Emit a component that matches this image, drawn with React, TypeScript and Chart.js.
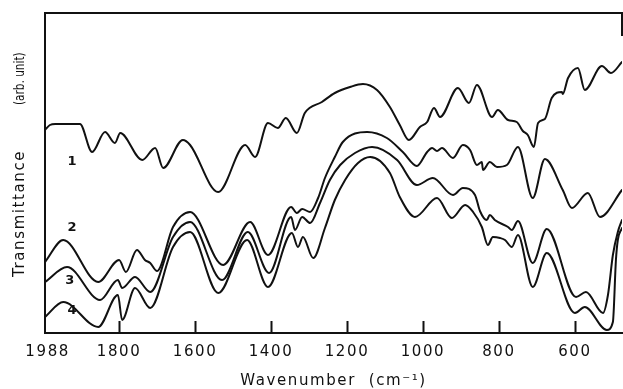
import { useEffect, useRef } from "react";
import { Chart, registerables } from "chart.js";

Chart.register(...registerables);

// x axis range (cm-1), reversed
const X_LEFT = 1995;
const X_RIGHT = 476;
const X_TICKS = [1988, 1800, 1600, 1400, 1200, 1000, 800, 600];
const Y_MIN = 0;
const Y_MAX = 320;

// Curve 1
const WN_1 = [1995, 1982, 1968, 1903, 1871, 1837, 1811, 1797, 1739, 1705, 1684, 1632, 1613, 1539, 1468, 1442, 1408, 1382, 1361, 1332, 1311, 1266, 1232, 1192, 1158, 1121, 1087, 1061, 1037, 1008, 989, 971, 955, 908, 879, 858, 818, 803, 776, 753, 737, 724, 708, 697, 679, 661, 634, 632, 618, 592, 574, 529, 505, 476];
const T_1 = [203, 208, 209, 209, 181, 201, 190, 200, 173, 185, 165, 193, 188, 141, 188, 176, 210, 205, 215, 200, 220, 231, 240, 246, 249, 243, 226, 208, 193, 206, 211, 225, 216, 245, 230, 248, 216, 223, 213, 211, 202, 198, 186, 210, 214, 235, 241, 239, 255, 265, 243, 267, 260, 271];

// Curve 2
const WN_2 = [1995, 1947, 1855, 1800, 1782, 1753, 1732, 1718, 1700, 1658, 1613, 1526, 1455, 1408, 1347, 1332, 1318, 1297, 1276, 1258, 1232, 1211, 1147, 1095, 1053, 1016, 989, 976, 963, 950, 921, 895, 876, 858, 845, 842, 824, 805, 779, 750, 711, 679, 632, 608, 566, 534, 476];
const T_2 = [71, 93, 51, 73, 61, 83, 73, 70, 62, 106, 121, 68, 111, 78, 126, 120, 124, 121, 135, 155, 176, 191, 201, 195, 181, 167, 181, 185, 182, 185, 175, 188, 183, 168, 171, 163, 171, 166, 168, 186, 135, 174, 143, 125, 140, 116, 143];

// Curve 3
const WN_3 = [1995, 1937, 1850, 1803, 1792, 1758, 1718, 1658, 1613, 1529, 1461, 1405, 1347, 1337, 1318, 1297, 1271, 1245, 1218, 1179, 1134, 1068, 1016, 974, 921, 895, 863, 850, 832, 824, 811, 776, 766, 750, 711, 674, 597, 571, 526, 513, 500, 487, 476];
const T_3 = [51, 66, 33, 53, 45, 56, 41, 96, 111, 53, 101, 60, 116, 103, 116, 110, 130, 153, 168, 180, 186, 173, 148, 155, 138, 145, 138, 122, 113, 118, 113, 106, 103, 112, 70, 104, 36, 41, 20, 38, 78, 101, 113];

// Curve 4
const WN_4 = [1995, 1947, 1855, 1803, 1792, 1758, 1718, 1658, 1613, 1539, 1463, 1408, 1345, 1329, 1316, 1289, 1258, 1232, 1205, 1171, 1139, 1087, 1061, 1021, 963, 924, 889, 868, 845, 829, 816, 797, 784, 766, 750, 711, 674, 600, 574, 516, 500, 492, 487, 476];
const T_4 = [16, 31, 6, 38, 13, 45, 25, 86, 101, 40, 93, 46, 100, 86, 96, 75, 105, 133, 153, 170, 176, 160, 136, 116, 135, 115, 128, 121, 106, 88, 96, 95, 93, 86, 98, 46, 80, 20, 26, 3, 11, 73, 93, 105];

const SERIES_NAMES = ["1", "2", "3", "4"];
const SERIES_WN = [WN_1, WN_2, WN_3, WN_4];
const SERIES_T = [T_1, T_2, T_3, T_4];
// curve label anchor (wavenumber, value)
const LABEL_WN = [1924, 1924, 1930, 1924];
const LABEL_T = [171, 105, 52, 22];

const FONT = "'DejaVu Sans', sans-serif";
const INK = "#111";

const framePlugin = {
  id: "frame",
  beforeDraw(chart: any) {
    (chart.ctx as any).letterSpacing = "1.6px";
  },
  afterDraw(chart: any) {
    const ctx = chart.ctx as CanvasRenderingContext2D;
    const { left, right, top, bottom } = chart.chartArea;
    const xs = chart.scales.x;
    const ys = chart.scales.y;
    ctx.save();
    ctx.strokeStyle = INK;
    ctx.lineWidth = 2;
    ctx.lineCap = "square";
    ctx.beginPath();
    ctx.moveTo(left, top);
    ctx.lineTo(left, bottom);
    ctx.lineTo(right, bottom);
    ctx.moveTo(left, top);
    ctx.lineTo(right, top);
    ctx.lineTo(right, top + 22);
    ctx.stroke();
    // inward ticks
    ctx.beginPath();
    for (const v of X_TICKS) {
      const px = Math.round(xs.getPixelForValue(v)) + 0.5;
      if (px - left < 6) continue;
      ctx.moveTo(px, bottom);
      ctx.lineTo(px, bottom - 11);
    }
    ctx.stroke();
    // curve labels
    ctx.fillStyle = INK;
    ctx.font = `bold 13px ${FONT}`;
    (ctx as any).letterSpacing = "0px";
    ctx.textAlign = "center";
    ctx.textBaseline = "middle";
    SERIES_NAMES.forEach((n, i) => {
      ctx.fillText(n, xs.getPixelForValue(LABEL_WN[i]), ys.getPixelForValue(LABEL_T[i]));
    });
    // y axis title
    ctx.translate(20, 167);
    ctx.rotate(-Math.PI / 2);
    ctx.textAlign = "left";
    ctx.textBaseline = "middle";
    ctx.font = `15px ${FONT}`;
    (ctx as any).letterSpacing = "1.6px";
    ctx.fillText("Transmittance", -110, 0);
    ctx.translate(62, 0);
    ctx.scale(0.75, 1);
    ctx.font = `14px ${FONT}`;
    (ctx as any).letterSpacing = "0px";
    ctx.fillText("(arb. unit)", 0, 0);
    ctx.restore();
  },
};

export default function App() {
  const ref = useRef<HTMLCanvasElement>(null);
  useEffect(() => {
    document.body.style.margin = "0";
    const canvas = ref.current!;
    const chart = new Chart(canvas, {
      type: "line",
      data: {
        datasets: SERIES_NAMES.map((name, i) => ({
          label: name,
          data: SERIES_WN[i].map((x, j) => ({ x, y: SERIES_T[i][j] })),
          borderColor: INK,
          borderWidth: 2,
          pointRadius: 0,
          fill: false,
          cubicInterpolationMode: "monotone" as const,
          borderJoinStyle: "round" as const,
          borderCapStyle: "round" as const,
        })),
      },
      options: {
        responsive: false,
        animation: false,
        devicePixelRatio: 1,
        layout: { padding: { left: 45, top: 13, right: 1, bottom: 0 } },
        plugins: { legend: { display: false }, tooltip: { enabled: false } },
        scales: {
          x: {
            type: "linear",
            reverse: true,
            min: X_RIGHT,
            max: X_LEFT,
            afterBuildTicks: (s: any) => {
              s.ticks = X_TICKS.map((v) => ({ value: v }));
            },
            afterFit: (s: any) => {
              s.height = 56;
            },
            grid: { display: false, drawTicks: false },
            border: { display: false },
            ticks: {
              padding: 10,
              autoSkip: false,
              maxRotation: 0,
              color: INK,
              font: { family: FONT, size: 15 },
              callback: (v: any) => String(v),
            },
            title: {
              display: true,
              text: "Wavenumber  (cm⁻¹)",
              color: INK,
              font: { family: FONT, size: 15, lineHeight: 1 },
              padding: { top: 0, bottom: 0 },
            },
          },
          y: { display: false, min: Y_MIN, max: Y_MAX },
        },
      },
      plugins: [framePlugin],
    });
    return () => chart.destroy();
  }, []);
  return <canvas ref={ref} width={623} height={389} style={{ display: "block" }} />;
}
